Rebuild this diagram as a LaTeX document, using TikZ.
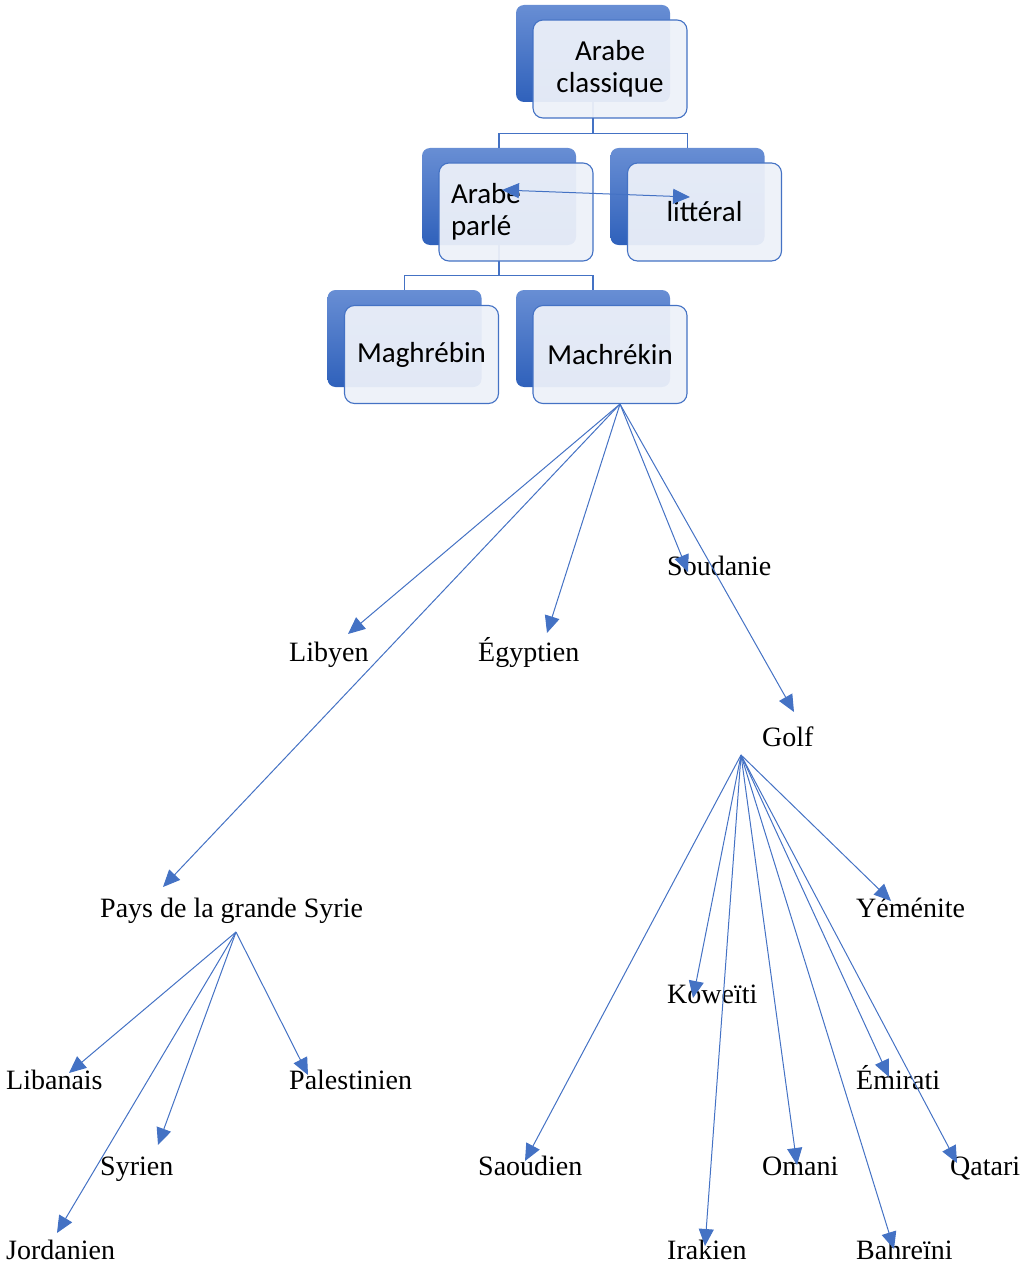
\documentclass[tikz,border=0pt]{standalone}
\usepackage{fontspec}
\setmainfont{Liberation Serif}
\newfontfamily\boxfont{Carlito}
\usetikzlibrary{arrows.meta}
\definecolor{smartblue}{RGB}{68,114,196}
\definecolor{smarttop}{RGB}{104,142,212}
\definecolor{smartbottom}{RGB}{47,97,187}
\definecolor{smartfill}{RGB}{237,241,249}

\tikzset{
  backbox/.style = {rounded corners = 8pt, minimum width = 154pt, minimum height = 97pt,
    inner sep = 0pt, top color = smarttop, bottom color = smartbottom},
  frontbox/.style = {rounded corners = 10pt, minimum width = 154pt, minimum height = 98pt,
    inner sep = 0pt, draw = smartblue, line width = 1.1pt, fill = smartfill,
    fill opacity = 0.94, text opacity = 1, font = \boxfont\fontsize{29}{32}\selectfont},
  link/.style = {draw = smartblue, line width = 1.1pt},
  lang/.style = {anchor = base west, inner sep = 0pt, font = \fontsize{28}{30}\selectfont},
  tip/.tip = {Triangle[length = 17pt, width = 15pt]},
  arr/.style = {-tip, color = smartblue, line width = 1pt}
}

\begin{document}
\begin{tikzpicture}[x = 1pt, y = -1pt]
        \useasboundingbox (0, 0) rectangle (1022, 1268);
        % back boxes
        \node[backbox] (classB) at (593, 53.5) {};
        \node[backbox] (parleB) at (499, 196.5) {};
        \node[backbox] (litB) at (687.5, 196.5) {};
        \node[backbox] (maghB) at (404.5, 338.5) {};
        \node[backbox] (machB) at (593, 338.5) {};
        % hierarchy lines
        \draw[link] (classB.south) -- ++(0, 31) -| (parleB.north);
        \draw[link] (classB.south) -- ++(0, 31) -| (litB.north);
        \draw[link] (parleB.south) -- ++(0, 30) -| (maghB.north);
        \draw[link] (parleB.south) -- ++(0, 30) -| (machB.north);
        % front boxes
        \node[frontbox, align = center] (class) at (610, 69) {Arabe\\classique};
        \node[frontbox, text width = 130pt, align = left] (parle) at (516, 212) {Arabe\\parlé};
        \node[frontbox] (lit) at (704.5, 212) {littéral};
        \node[frontbox] (magh) at (421.5, 354.5) {Maghrébin};
        \node[frontbox] (mach) at (610, 354.5) {Machrékin};
        % dialects
        \node[lang] (soud) at (667, 575) {Soudanie};
        \node[lang] (liby) at (289, 661) {Libyen};
        \node[lang] (egyp) at (478, 661) {Égyptien};
        \node[lang] (golf) at (762, 746) {Golf};
        \node[lang] (pays) at (100, 917) {Pays de la grande Syrie};
        \node[lang] (yem) at (856, 917) {Yéménite};
        \node[lang] (kow) at (667, 1003) {Koweïti};
        \node[lang] (liban) at (6, 1089) {Libanais};
        \node[lang] (pal) at (289, 1089) {Palestinien};
        \node[lang] (emir) at (856, 1089) {Émirati};
        \node[lang] (syr) at (100, 1175) {Syrien};
        \node[lang] (saou) at (478, 1175) {Saoudien};
        \node[lang] (oma) at (762, 1175) {Omani};
        \node[lang] (qat) at (950, 1175) {Qatari};
        \node[lang] (jord) at (6, 1259) {Jordanien};
        \node[lang] (irak) at (667, 1259) {Irakien};
        \node[lang] (bahr) at (856, 1259) {Bahreïni};
        % arrow ends
        \coordinate (parleEnd) at (502, 190);
        \coordinate (litEnd) at (690, 197);
        \coordinate (machOut) at ([xshift = 10pt]mach.south);
        \coordinate (paysOut) at (236, 932);
        \coordinate (golfOut) at (741, 755);
        \coordinate (soudTip) at (688, 572);
        \coordinate (libyTip) at (348, 634);
        \coordinate (egypTip) at (547, 633);
        \coordinate (golfTip) at (794, 712);
        \coordinate (paysTip) at (163, 887);
        \coordinate (yemTip) at (891, 901);
        \coordinate (kowTip) at (693, 998);
        \coordinate (libanTip) at (69, 1073);
        \coordinate (palTip) at (308, 1075);
        \coordinate (emirTip) at (889, 1077);
        \coordinate (syrTip) at (158, 1145);
        \coordinate (saouTip) at (525, 1161);
        \coordinate (omaTip) at (797, 1165);
        \coordinate (qatTip) at (957, 1163);
        \coordinate (jordTip) at (57, 1233);
        \coordinate (irakTip) at (705, 1246);
        \coordinate (bahrTip) at (894, 1249);
        % arrows
        \draw[arr, tip-tip] (parleEnd) -- (litEnd);
        \draw[arr] (machOut) -- (libyTip);
        \draw[arr] (machOut) -- (paysTip);
        \draw[arr] (machOut) -- (egypTip);
        \draw[arr] (machOut) -- (soudTip);
        \draw[arr] (machOut) -- (golfTip);
        \draw[arr] (paysOut) -- (libanTip);
        \draw[arr] (paysOut) -- (jordTip);
        \draw[arr] (paysOut) -- (syrTip);
        \draw[arr] (paysOut) -- (palTip);
        \draw[arr] (golfOut) -- (saouTip);
        \draw[arr] (golfOut) -- (kowTip);
        \draw[arr] (golfOut) -- (irakTip);
        \draw[arr] (golfOut) -- (omaTip);
        \draw[arr] (golfOut) -- (bahrTip);
        \draw[arr] (golfOut) -- (emirTip);
        \draw[arr] (golfOut) -- (qatTip);
        \draw[arr] (golfOut) -- (yemTip);
      \end{tikzpicture}
\end{document}
